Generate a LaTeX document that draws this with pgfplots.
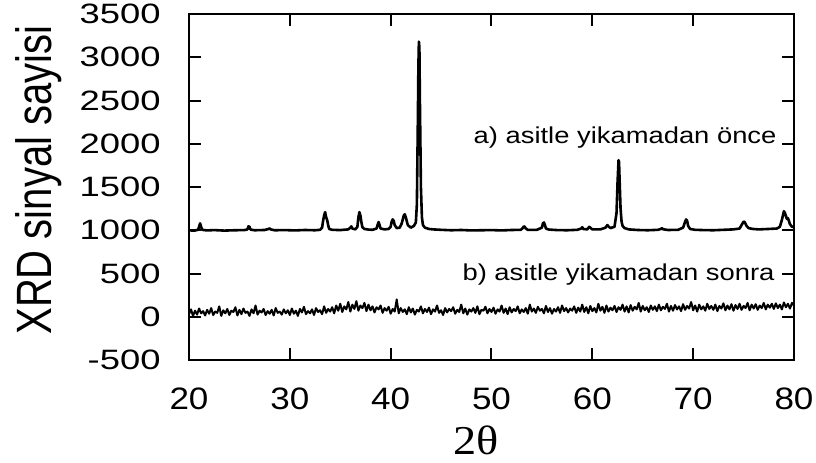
\documentclass[border=0pt]{standalone}
\usepackage{fontspec}
\usepackage{graphicx}
\usepackage{pgfplots}
\pgfplotsset{compat=1.18}
\setmainfont{Liberation Sans}
\newfontfamily\ytickfont{Liberation Sans}[FakeStretch=1.3]
\newfontfamily\xtickfont{Liberation Sans}[FakeStretch=1.13]
\newfontfamily\notefont{Liberation Sans}[FakeStretch=1.19]
\newfontfamily\thetafont{Liberation Serif}[FakeStretch=1.13]

% XRD pattern before acid washing (offset by 1000 counts)
\pgfplotstableread{
x y
20.0 1000
20.5 995
20.9 1005
21.0 1040
21.1 1080
21.2 1040
21.3 1005
21.8 998
22.5 1002
23.5 996
24.5 1000
25.5 1002
25.8 1010
25.9 1045
26.0 1040
26.1 1008
26.5 1000
27.5 1003
27.9 1015
28.0 1022
28.1 1010
28.5 1000
29.5 1002
30.5 998
31.5 1003
32.5 1000
33.0 1005
33.2 1030
33.3 1110
33.4 1170
33.5 1210
33.6 1150
33.7 1120
33.8 1060
33.9 1015
34.2 1005
35.0 1002
35.8 1010
36.0 1030
36.1 1045
36.2 1020
36.5 1010
36.7 1040
36.8 1150
36.9 1210
37.0 1170
37.1 1090
37.2 1035
37.4 1015
37.8 1008
38.2 1005
38.6 1020
38.7 1060
38.8 1095
38.9 1060
39.0 1020
39.4 1010
39.8 1015
40.0 1040
40.1 1100
40.2 1125
40.3 1110
40.4 1060
40.6 1025
40.9 1030
41.1 1080
41.3 1170
41.4 1185
41.5 1150
41.7 1060
42.0 1030
42.3 1050
42.5 1090
42.6 1300
42.7 2300
42.75 2900
42.8 3180
42.85 3120
42.9 2500
43.0 1500
43.1 1150
43.2 1060
43.4 1030
43.8 1015
44.2 1010
45.0 1005
46.0 1000
47.0 1003
48.0 998
49.0 1000
50.0 1002
51.0 998
52.0 1003
52.9 1005
53.1 1025
53.2 1045
53.3 1040
53.4 1020
53.6 1005
54.5 1005
55.0 1030
55.1 1080
55.2 1090
55.3 1060
55.4 1020
55.7 1008
56.5 1002
57.5 1000
58.5 1005
58.9 1020
59.0 1035
59.1 1015
59.5 1010
59.7 1040
59.8 1030
60.0 1010
60.8 1010
61.3 1030
61.5 1060
61.6 1045
61.8 1025
62.2 1040
62.4 1200
62.5 1550
62.6 1810
62.65 1790
62.7 1600
62.8 1250
62.9 1100
63.0 1050
63.2 1025
63.6 1010
64.5 1003
65.5 1000
66.5 1005
66.8 1015
66.9 1025
67.0 1012
67.5 1003
68.5 1005
69.0 1030
69.2 1100
69.3 1125
69.4 1110
69.5 1050
69.7 1015
70.2 1005
71.0 1002
72.0 1000
73.0 1005
74.0 1010
74.6 1020
74.8 1060
75.0 1100
75.1 1095
75.3 1050
75.5 1025
75.9 1015
76.5 1010
77.5 1015
78.3 1020
78.6 1040
78.8 1120
79.0 1220
79.1 1200
79.3 1130
79.4 1140
79.6 1070
79.8 1040
80.0 1040
}\before

% XRD pattern after acid washing
\pgfplotstableread{
x y
20.0 30
20.2 85
20.4 10
20.6 70
20.8 25
21.0 95
21.2 40
21.4 65
21.6 15
21.8 80
22.0 35
22.2 100
22.4 20
22.6 60
22.8 45
23.0 120
23.2 10
23.4 75
23.6 40
23.8 90
24.0 20
24.2 70
24.4 55
24.6 110
24.8 15
25.0 80
25.2 30
25.4 95
25.6 45
25.8 60
26.0 10
26.2 85
26.4 40
26.6 130
26.8 25
27.0 70
27.2 50
27.4 90
27.6 20
27.8 65
28.0 35
28.2 80
28.4 15
28.6 100
28.8 45
29.0 60
29.2 25
29.4 85
29.6 40
29.8 75
30.0 20
30.2 95
30.4 35
30.6 70
30.8 10
31.0 90
31.2 50
31.4 115
31.6 30
31.8 65
32.0 40
32.2 85
32.4 20
32.6 100
32.8 55
33.0 75
33.2 30
33.4 120
33.6 45
33.8 90
34.0 60
34.2 110
34.4 40
34.6 130
34.8 70
35.0 150
35.2 55
35.4 120
35.6 85
35.8 170
36.0 60
36.2 140
36.4 90
36.6 180
36.8 70
37.0 130
37.2 100
37.4 160
37.6 65
37.8 140
38.0 75
38.2 120
38.4 50
38.6 110
38.8 85
39.0 130
39.2 45
39.4 100
39.6 70
39.8 115
40.0 35
40.2 90
40.4 60
40.6 200
40.8 40
41.0 100
41.2 55
41.4 85
41.6 30
41.8 110
42.0 50
42.2 95
42.4 25
42.6 80
42.8 60
43.0 120
43.2 40
43.4 90
43.6 55
43.8 105
44.0 30
44.2 85
44.4 60
44.6 130
44.8 45
45.0 75
45.2 20
45.4 100
45.6 50
45.8 90
46.0 65
46.2 110
46.4 35
46.6 80
46.8 55
47.0 140
47.2 40
47.4 95
47.6 25
47.8 85
48.0 60
48.2 100
48.4 45
48.6 120
48.8 30
49.0 80
49.2 70
49.4 115
49.6 40
49.8 90
50.0 55
50.2 105
50.4 35
50.6 85
50.8 60
51.0 130
51.2 45
51.4 95
51.6 30
51.8 110
52.0 50
52.2 90
52.4 65
52.6 120
52.8 40
53.0 85
53.2 55
53.4 100
53.6 35
53.8 140
54.0 60
54.2 95
54.4 45
54.6 115
54.8 70
55.0 90
55.2 40
55.4 125
55.6 55
55.8 100
56.0 35
56.2 90
56.4 60
56.6 110
56.8 45
57.0 130
57.2 65
57.4 100
57.6 50
57.8 95
58.0 70
58.2 120
58.4 45
58.6 105
58.8 60
59.0 140
59.2 55
59.4 110
59.6 40
59.8 125
60.0 65
60.2 100
60.4 50
60.6 150
60.8 70
61.0 115
61.2 45
61.4 130
61.6 60
61.8 105
62.0 75
62.2 125
62.4 55
62.6 110
62.8 80
63.0 140
63.2 60
63.4 120
63.6 50
63.8 135
64.0 70
64.2 115
64.4 85
64.6 160
64.8 60
65.0 125
65.2 75
65.4 110
65.6 55
65.8 130
66.0 80
66.2 120
66.4 65
66.6 140
66.8 75
67.0 115
67.2 90
67.4 150
67.6 60
67.8 125
68.0 70
68.2 135
68.4 85
68.6 120
68.8 65
69.0 145
69.2 80
69.4 125
69.6 95
69.8 170
70.0 75
70.2 130
70.4 60
70.6 140
70.8 85
71.0 120
71.2 70
71.4 150
71.6 90
71.8 125
72.0 80
72.2 140
72.4 65
72.6 125
72.8 95
73.0 155
73.2 75
73.4 130
73.6 85
73.8 145
74.0 70
74.2 135
74.4 90
74.6 150
74.8 80
75.0 125
75.2 100
75.4 160
75.6 75
75.8 140
76.0 95
76.2 145
76.4 80
76.6 130
76.8 100
77.0 160
77.2 85
77.4 140
77.6 105
77.8 150
78.0 90
78.2 155
78.4 100
78.6 140
78.8 85
79.0 165
79.2 110
79.4 150
79.6 95
79.8 160
80.0 130
}\after

\begin{document}
\begin{tikzpicture}
\begin{axis}[
  name=ax,
  scale only axis,
  width=302.5pt, height=173pt,
  xmin=20, xmax=80,
  ymin=-500, ymax=3500,
  xtick={20,30,40,50,60,70,80},
  xticklabels={20,30,40,50,60,70,80},
  ytick={-500,0,500,1000,1500,2000,2500,3000,3500},
  yticklabels={-500,0,500,1000,1500,2000,2500,3000,3500},
  tick align=inside,
  major tick length=6pt,
  minor tick num=0,
  every tick/.style={black, line width=1pt},
  axis line style={black, line width=1.1pt},
  xticklabel style={font=\xtickfont\fontsize{15.5}{18}\selectfont,
    anchor=north, inner sep=0pt, yshift=-13.5pt},
  yticklabel style={font=\ytickfont\fontsize{14}{16}\selectfont,
    anchor=east, inner sep=0pt, xshift=-14pt},
  xlabel={\thetafont\fontsize{20.5}{24}\selectfont 2θ},
  xlabel style={at={(axis description cs:0.474,-0.188)}, anchor=north, inner sep=0pt},
  ylabel={\scalebox{1}[1.24]{\fontsize{20}{24}\selectfont XRD sinyal sayisi}},
  ylabel style={at={(axis description cs:-0.288,0.52)}, anchor=north, inner sep=0pt, rotate=0},
]
\addplot[black, line width=1.3pt, line join=round] table[x=x, y=y] {\before};
\addplot[black, line width=1pt, line join=round] table[x=x, y=y] {\after};
\node[anchor=base east, inner sep=0pt, font=\notefont\fontsize{11.5}{14}\selectfont]
  at (axis cs:78.3,2000) {a) asitle yikamadan önce};
\node[anchor=base east, inner sep=0pt, font=\notefont\fontsize{11.5}{14}\selectfont]
  at (axis cs:78.1,420) {b) asitle yikamadan sonra};
\end{axis}
\pgfresetboundingbox
\path[use as bounding box] ([xshift=-94.5pt,yshift=-51pt]ax.south west)
  rectangle ([xshift=11pt,yshift=7pt]ax.north east);
\end{tikzpicture}
\end{document}
